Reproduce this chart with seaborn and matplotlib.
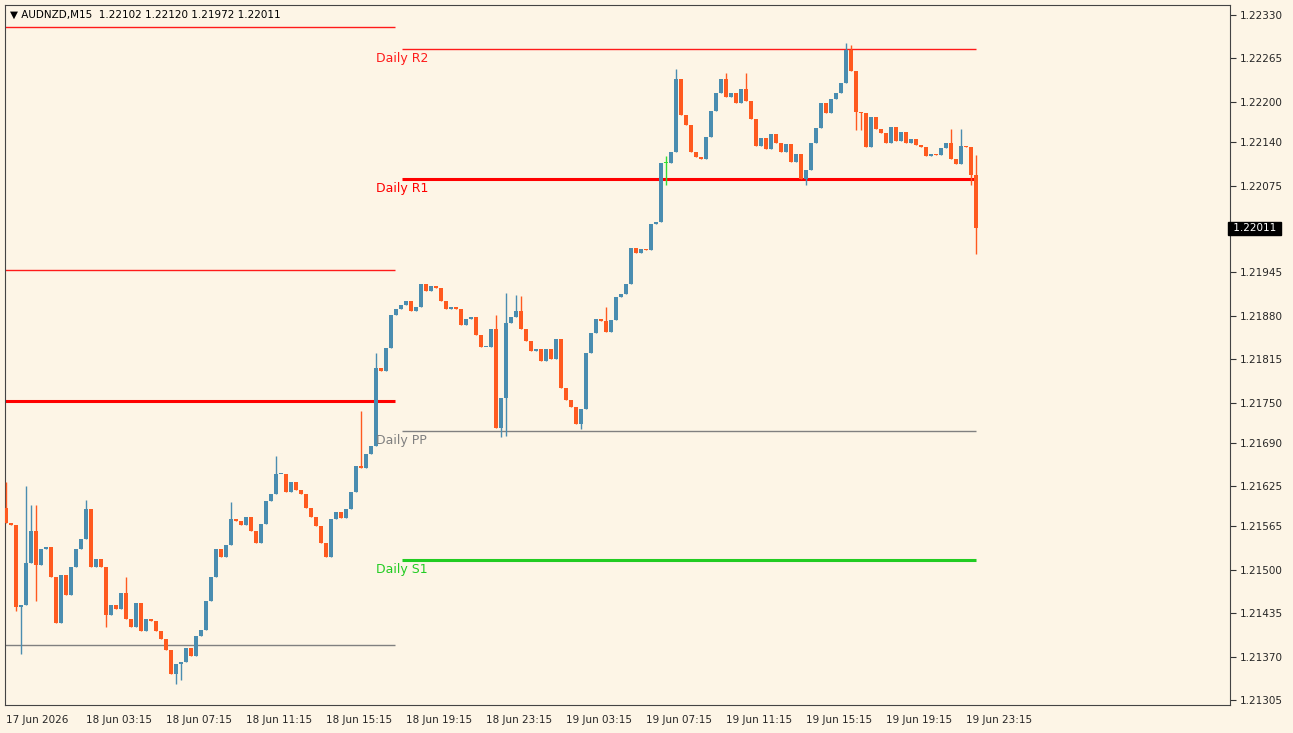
import numpy as np
import matplotlib
matplotlib.use("Agg")
import matplotlib.pyplot as plt
import seaborn as sns

# AUDNZD M15 closes (bar 0 = 17 Jun 23:15)
first_open = 1.21592
closes = [
    1.21570, 1.21567, 1.21445, 1.21448, 1.21510, 1.21559, 1.21508, 1.21532, 1.21535, 1.21490,
    1.21421, 1.21493, 1.21463, 1.21504, 1.21531, 1.21547, 1.21591, 1.21504, 1.21517, 1.21505,
    1.21433, 1.21448, 1.21442, 1.21466, 1.21426, 1.21414, 1.21450, 1.21408, 1.21426, 1.21424,
    1.21408, 1.21396, 1.21380, 1.21345, 1.21359, 1.21362, 1.21383, 1.21371, 1.21401, 1.21410,
    1.21454, 1.21489, 1.21531, 1.21519, 1.21537, 1.21576, 1.21573, 1.21567, 1.21579, 1.21558,
    1.21541, 1.21568, 1.21603, 1.21613, 1.21643, 1.21644, 1.21617, 1.21631, 1.21620, 1.21614,
    1.21592, 1.21579, 1.21565, 1.21540, 1.21519, 1.21576, 1.21586, 1.21577, 1.21591, 1.21616,
    1.21655, 1.21652, 1.21674, 1.21685, 1.21802, 1.21797, 1.21832, 1.21882, 1.21891, 1.21897,
    1.21902, 1.21887, 1.21894, 1.21927, 1.21917, 1.21924, 1.21921, 1.21902, 1.21890, 1.21894,
    1.21891, 1.21867, 1.21876, 1.21879, 1.21851, 1.21833, 1.21834, 1.21860, 1.21713, 1.21757,
    1.21870, 1.21878, 1.21888, 1.21861, 1.21842, 1.21828, 1.21830, 1.21812, 1.21830, 1.21816,
    1.21846, 1.21772, 1.21754, 1.21743, 1.21719, 1.21740, 1.21824, 1.21854, 1.21875, 1.21872,
    1.21856, 1.21874, 1.21908, 1.21912, 1.21927, 1.21982, 1.21974, 1.21980, 1.21978, 1.22018,
    1.22020, 1.22108, 1.22108, 1.22125, 1.22235, 1.22181, 1.22166, 1.22125, 1.22117, 1.22115,
    1.22147, 1.22186, 1.22214, 1.22234, 1.22207, 1.22213, 1.22199, 1.22220, 1.22201, 1.22175,
    1.22134, 1.22146, 1.22129, 1.22152, 1.22138, 1.22125, 1.22137, 1.22110, 1.22122, 1.22084,
    1.22098, 1.22138, 1.22161, 1.22198, 1.22183, 1.22204, 1.22213, 1.22228, 1.22277, 1.22246,
    1.22185, 1.22183, 1.22132, 1.22177, 1.22160, 1.22153, 1.22139, 1.22162, 1.22141, 1.22155,
    1.22139, 1.22144, 1.22135, 1.22132, 1.22119, 1.22122, 1.22121, 1.22131, 1.22138, 1.22114,
    1.22107, 1.22134, 1.22132, 1.22090, 1.22011,
]
# visible wick extremes (bar index -> price)
wick_highs = {0: 1.21632, 4: 1.21625, 5: 1.21597, 6: 1.21597, 16: 1.21605, 24: 1.21490,
              45: 1.21601, 54: 1.21671, 71: 1.21738, 74: 1.21825, 98: 1.21882, 100: 1.21914,
              102: 1.21911, 103: 1.21910, 120: 1.21893, 132: 1.22119, 134: 1.22249,
              144: 1.22243, 148: 1.22243, 168: 1.22288, 169: 1.22285, 189: 1.22160,
              191: 1.22160, 193: 1.22122, 194: 1.22120}
wick_lows = {2: 1.21438, 3: 1.21375, 6: 1.21454, 20: 1.21414, 34: 1.21329, 35: 1.21335,
             99: 1.21699, 100: 1.21700, 115: 1.21711, 132: 1.22076, 160: 1.22076,
             170: 1.22158, 171: 1.22158, 193: 1.22076, 194: 1.21972}

# pivot levels: previous day (left) and current day (right)
prev_levels = [1.22312, 1.21949, 1.21752, 1.21387]
prev_colors = ["#ff1a1a", "#ff1a1a", "#ff0000", "#808080"]
prev_widths = [1.0, 1.0, 2.2, 1.0]
day_levels = [1.22279, 1.22085, 1.21708, 1.21515]
day_names = ["Daily R2", "Daily R1", "Daily PP", "Daily S1"]
day_colors = ["#ff1a1a", "#ff0000", "#808080", "#22cc22"]
day_widths = [1.0, 2.2, 1.0, 2.2]

x_labels = ["17 Jun 2026", "18 Jun 03:15", "18 Jun 07:15", "18 Jun 11:15", "18 Jun 15:15",
            "18 Jun 19:15", "18 Jun 23:15", "19 Jun 03:15", "19 Jun 07:15", "19 Jun 11:15",
            "19 Jun 15:15", "19 Jun 19:15", "19 Jun 23:15"]
y_ticks = [1.22330, 1.22265, 1.22200, 1.22140, 1.22075, 1.21945, 1.21880, 1.21815,
           1.21750, 1.21690, 1.21625, 1.21565, 1.21500, 1.21435, 1.21370, 1.21305]

sns.set_style("white")
plt.rcParams["font.family"] = ["DejaVu Sans"]

bg = "#fdf5e6"
up_col = "#4a8db0"
dn_col = "#ff5a1f"

fig = plt.figure(figsize=(12.93, 7.33), dpi=100, facecolor=bg)
ax = fig.add_axes([5 / 1293, 28 / 733, 1225 / 1293, 700 / 733])
ax.set_facecolor(bg)

n = len(closes)
idx = np.arange(n)
opens = np.array([first_open] + closes[:-1])
cl = np.array(closes)
hi = np.maximum(opens, cl)
lo = np.minimum(opens, cl)
for k, v in wick_highs.items():
    hi[k] = max(hi[k], v)
for k, v in wick_lows.items():
    lo[k] = min(lo[k], v)

cols = np.where(cl > opens, up_col, np.where(cl < opens, dn_col, "#33dd33"))
ax.vlines(idx, lo, hi, colors=cols, linewidth=1.0, zorder=3)
body = np.abs(cl - opens)
body = np.where(body < 0.000015, 0.000015, body)
ax.bar(idx, body, bottom=np.minimum(opens, cl), width=0.62, color=cols, linewidth=0, zorder=4)

split = 78
for lvl, c, w in zip(prev_levels, prev_colors, prev_widths):
    ax.hlines(lvl, -0.2, split - 0.3, colors=c, linewidth=w, zorder=2)
for lvl, name, c, w in zip(day_levels, day_names, day_colors, day_widths):
    ax.hlines(lvl, split + 1.2, n - 1, colors=c, linewidth=w, zorder=2)
    ax.text(74, lvl - 0.00004, name, color=c, fontsize=9, ha="left", va="top", zorder=5)

ax.set_xlim(-0.2, 244.8)
ax.set_ylim(1.21298, 1.22345)
ax.yaxis.tick_right()
ax.set_yticks(y_ticks)
ax.set_yticklabels([f"{t:.5f}" for t in y_ticks], fontsize=7.5)
ax.set_xticks(np.arange(0, n, 16))
ax.set_xticklabels(x_labels, fontsize=7.5, ha="left")
ax.tick_params(axis="both", length=4, width=0.8, color="#333333", pad=3)
for s in ax.spines.values():
    s.set_color("#444444")
    s.set_linewidth(0.8)

ax.text(0.004, 0.993, "\u25bc AUDNZD,M15  1.22102 1.22120 1.21972 1.22011", transform=ax.transAxes,
        fontsize=7.5, va="top", ha="left", color="black")
ax.text(1.0, cl[-1], f" {cl[-1]:.5f} ", transform=ax.get_yaxis_transform(), fontsize=7.5,
        color="white", va="center", ha="left", zorder=10,
        bbox=dict(boxstyle="square,pad=0.15", fc="black", ec="black"))

fig.savefig("out.png", dpi=100, facecolor=bg)
